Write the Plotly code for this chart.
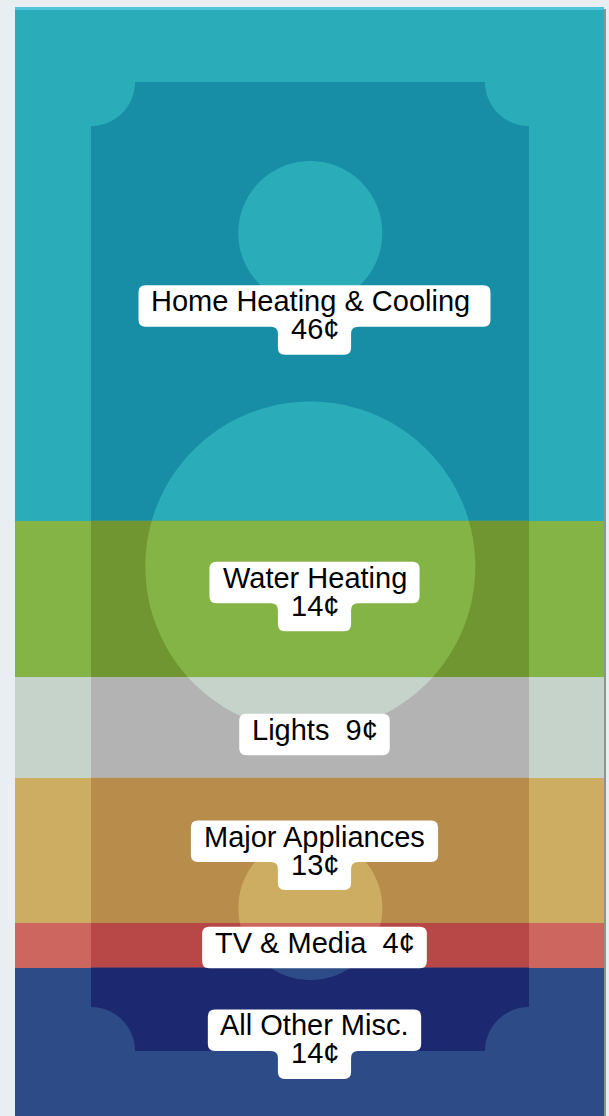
import numpy as np
import plotly.graph_objects as go

# ---------------- data ----------------
categories = ["Home Heating & Cooling", "Water Heating", "Lights",
              "Major Appliances", "TV & Media", "All Other Misc."]
cents = [46, 14, 9, 13, 4, 14]
one_line = [False, False, True, False, True, False]
label_tail = ["\u00a0", "", "", "", "", ""]
label_nudge_px = [56, -2.6, 7, 5, 2.2, -1.6]

base_colors = ["#2aadb9", "#84b446", "#c5d3cb", "#cdad62", "#cd665f", "#2d4c87"]
dark_colors = ["#178ea5", "#6f9631", "#b2b3b2", "#b88d4c", "#b84848", "#1c2870"]

# ---------------- geometry / style constants ----------------
W, H = 609, 1116
ML, MR, MT, MB = 15, 5, 7, 0
PW, PH = W - ML - MR, H - MT - MB
PPC = 11.17                # pixels per cent
Y_MAX = PH / PPC
XR = (-0.5, 0.5)

FONT = "Liberation Sans, Arial, Helvetica, sans-serif"
FS = 29
PAD_X = 12.4
BOX_R = 7
BILL = dict(x0=91, x1=529, y0=82, y1=1051)
NOTCH_R = 44
CIRCLES = [(310.3, 233, 72), (310.3, 566.5, 165), (310.3, 908, 72)]
LABEL_CX = 314.5


def xd(px):
    return XR[0] + (px - ML) / PW * (XR[1] - XR[0])


def yd(py):
    return (py - MT) / PPC


def ypx(v):
    return MT + v * PPC


def poly_path(pts):
    return "M " + " L ".join(f"{xd(x):.5f},{yd(y):.4f}" for x, y in pts) + " Z"


AW = {"H": 722, "o": 556, "m": 833, "e": 556, " ": 278, "\u00a0": 278, "a": 556,
      "t": 278, "i": 222, "n": 556, "g": 556, "&": 667, "C": 722, "l": 222,
      "W": 944, "r": 333, "L": 556, "h": 556, "s": 500, "M": 833, "j": 222,
      "A": 667, "p": 556, "c": 500, "T": 611, "V": 667, "d": 556, "O": 778,
      ".": 278, "\u00a2": 556}


def text_w(s):
    return sum(AW.get(ch, 556) for ch in s) / 1000 * FS


cum = np.concatenate([[0], np.cumsum(cents)])

fig = go.Figure()
for cat, c, col in zip(categories, cents, base_colors):
    fig.add_trace(go.Bar(x=[0], y=[c], name=cat, width=1,
                         marker=dict(color=col, line=dict(width=0)),
                         hoverinfo="name+y"))

shapes = []
# dark bill body, per segment
bill_top_d, bill_bot_d = yd(BILL["y0"]), yd(BILL["y1"])
for i in range(len(cents)):
    t, b = max(cum[i], bill_top_d), min(cum[i + 1], bill_bot_d)
    if b > t:
        shapes.append(dict(type="rect", xref="x", yref="y",
                           x0=xd(BILL["x0"]), x1=xd(BILL["x1"]), y0=t, y1=b,
                           fillcolor=dark_colors[i], line=dict(width=0), layer="above"))

# circles (light holes), clipped per segment
ang = np.linspace(0, 2 * np.pi, 181)
for i in range(len(cents)):
    t, b = ypx(cum[i]), ypx(cum[i + 1])
    for cx, cy, r in CIRCLES:
        if cy - r < b and cy + r > t:
            xs = cx + r * np.cos(ang)
            ys = np.clip(cy + r * np.sin(ang), t, b)
            shapes.append(dict(type="path", xref="x", yref="y",
                               path=poly_path(list(zip(xs, ys))),
                               fillcolor=base_colors[i], line=dict(width=0), layer="above"))


def seg_of(py):
    v = yd(py)
    return int(np.clip(np.searchsorted(cum, v, side="right") - 1, 0, len(cents) - 1))


# corner notches
corners = [(BILL["x0"], BILL["y0"], 0, np.pi / 2),
           (BILL["x1"], BILL["y0"], np.pi / 2, np.pi),
           (BILL["x1"], BILL["y1"], np.pi, 1.5 * np.pi),
           (BILL["x0"], BILL["y1"], 1.5 * np.pi, 2 * np.pi)]
for cx, cy, a0, a1 in corners:
    aa = np.linspace(a0, a1, 40)
    pts = [(cx, cy)] + list(zip(cx + NOTCH_R * np.cos(aa), cy + NOTCH_R * np.sin(aa)))
    shapes.append(dict(type="path", xref="x", yref="y", path=poly_path(pts),
                       fillcolor=base_colors[seg_of(cy + (2 if cy == BILL["y0"] else -2))],
                       line=dict(width=0), layer="above"))


def P(x, y):
    return f"{xd(x):.5f},{yd(y):.4f}"


def rrect(x0, x1, y0, y1, r):
    return (f"M {P(x0 + r, y0)} L {P(x1 - r, y0)} Q {P(x1, y0)} {P(x1, y0 + r)} "
            f"L {P(x1, y1 - r)} Q {P(x1, y1)} {P(x1 - r, y1)} "
            f"L {P(x0 + r, y1)} Q {P(x0, y1)} {P(x0, y1 - r)} "
            f"L {P(x0, y0 + r)} Q {P(x0, y0)} {P(x0 + r, y0)} Z")


def rtee(x0, x1, y0, y1, u0, u1, y2, r):
    return (f"M {P(x0 + r, y0)} L {P(x1 - r, y0)} Q {P(x1, y0)} {P(x1, y0 + r)} "
            f"L {P(x1, y1 - r)} Q {P(x1, y1)} {P(x1 - r, y1)} "
            f"L {P(u1 + r, y1)} Q {P(u1, y1)} {P(u1, y1 + r)} "
            f"L {P(u1, y2 - r)} Q {P(u1, y2)} {P(u1 - r, y2)} "
            f"L {P(u0 + r, y2)} Q {P(u0, y2)} {P(u0, y2 - r)} "
            f"L {P(u0, y1 + r)} Q {P(u0, y1)} {P(u0 - r, y1)} "
            f"L {P(x0 + r, y1)} Q {P(x0, y1)} {P(x0, y1 - r)} "
            f"L {P(x0, y0 + r)} Q {P(x0, y0)} {P(x0 + r, y0)} Z")


annotations = []
for i, (cat, c) in enumerate(zip(categories, cents)):
    seg_c = ypx(cum[i] + c / 2) + label_nudge_px[i]
    if one_line[i]:
        lines = [f"{cat}\u00a0\u00a0{c}\u00a2"]
        b1 = seg_c + 5.25
    else:
        lines = [cat + label_tail[i], f"{c}\u00a2"]
        b1 = seg_c - 8.75
    w1 = text_w(lines[0]) + 2 * PAD_X
    x0, x1 = LABEL_CX - w1 / 2, LABEL_CX + w1 / 2
    y0, y1 = b1 - 26, b1 + 15.5
    if one_line[i]:
        path = rrect(x0, x1, y0, y1, BOX_R)
    else:
        b2 = b1 + 28
        w2 = text_w(lines[1]) + 2 * PAD_X
        path = rtee(x0, x1, y0, y1, LABEL_CX - w2 / 2, LABEL_CX + w2 / 2, b2 + 15.5, BOX_R)
    shapes.append(dict(type="path", xref="x", yref="y", path=path,
                       fillcolor="white", line=dict(width=0), layer="above"))
    for k, txt in enumerate(lines):
        bl = b1 + 28 * k
        annotations.append(dict(x=xd(LABEL_CX), y=yd(bl - 10.05), xref="x", yref="y",
                                text=txt, showarrow=False, xanchor="center",
                                yanchor="middle",
                                font=dict(family=FONT, size=FS, color="#000000")))

# top highlight strip and right edge shadow
shapes.append(dict(type="rect", xref="paper", yref="paper", x0=0, x1=1,
                   y0=1 - 3 / PH, y1=1, fillcolor="#4ec4d9", line=dict(width=0),
                   layer="above"))
shapes.append(dict(type="rect", xref="paper", yref="paper", x0=1, x1=1 + 2 / PW,
                   y0=0, y1=1 - 2 / PH, fillcolor="#8a968c", line=dict(width=0),
                   layer="above"))

fig.update_layout(
    width=W, height=H,
    margin=dict(l=ML, r=MR, t=MT, b=MB, pad=0),
    barmode="stack", bargap=0, showlegend=False,
    paper_bgcolor="#e9eef2", plot_bgcolor="#e9eef2",
    xaxis=dict(visible=False, range=list(XR), fixedrange=True),
    yaxis=dict(visible=False, range=[Y_MAX, 0], fixedrange=True),
    shapes=shapes, annotations=annotations,
)

fig.write_html("out.html", config={"displayModeBar": False},
               post_script="document.body.style.margin='0px';"
                           "document.body.style.background='#e9eef2';"
                           "document.body.style.overflow='hidden';")
